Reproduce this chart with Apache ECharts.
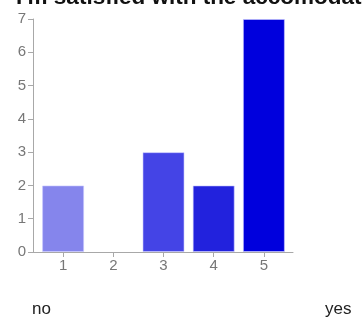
<!DOCTYPE html>
<html><head><meta charset="utf-8">
<script src="https://cdn.jsdelivr.net/npm/echarts@6/dist/echarts.min.js"></script>
<style>html,body{margin:0;padding:0;background:#fff}#c{width:363px;height:325px}</style>
</head><body><div id="c"></div>
<script>
const titleText = "I'm satisfied with the accomodation";
const categories = [1, 2, 3, 4, 5];
const values = [2, 0, 3, 2, 7];
const barColors = ['#8585ec', '#6666e8', '#4444e6', '#2222dd', '#0000dd'];
const yTicks = [0, 1, 2, 3, 4, 5, 6, 7];
const lowLabel = 'no';
const highLabel = 'yes';

const chart = echarts.init(document.getElementById('c'), null, {renderer: 'canvas'});
chart.setOption({
  animation: false,
  title: {
    text: titleText, left: 11, top: -19,
    textStyle: {fontFamily: 'Liberation Sans, Arial', fontWeight: 'bold', fontSize: 22.5, color: '#111'}
  },
  grid: {left: 33, right: 70, top: 19, bottom: 73, containLabel: false},
  xAxis: {
    type: 'value', min: 0.4, max: 5.58,
    splitLine: {show: false},
    axisLine: {show: true, lineStyle: {color: '#a8a8a8', width: 1}},
    axisTick: {show: true, customValues: categories, length: 5, lineStyle: {color: '#a8a8a8'}},
    axisLabel: {customValues: categories, color: '#777', fontSize: 15, fontFamily: 'Liberation Sans, Arial', margin: 6}
  },
  yAxis: {
    type: 'value', min: 0, max: 7, interval: 1,
    splitLine: {show: false},
    axisLine: {show: true, lineStyle: {color: '#a8a8a8', width: 1}},
    axisTick: {show: true, length: 5, lineStyle: {color: '#a8a8a8'}},
    axisLabel: {color: '#777', fontSize: 15, fontFamily: 'Liberation Sans, Arial', margin: 7,
      formatter: v => yTicks.includes(v) ? String(v) : ''}
  },
  series: [{
    type: 'bar', barWidth: 42,
    data: categories.map((c, i) => ({
      value: [c, values[i]],
      itemStyle: {color: barColors[i], borderColor: 'rgba(200,200,255,0.6)', borderWidth: values[i] ? 1 : 0}
    }))
  }],
  graphic: [
    {type: 'text', left: 32, top: 301, style: {text: lowLabel, font: '17px "Liberation Sans", Arial', fill: '#222'}},
    {type: 'text', left: 325, top: 301, style: {text: highLabel, font: '17px "Liberation Sans", Arial', fill: '#222'}}
  ]
});
</script></body></html>
